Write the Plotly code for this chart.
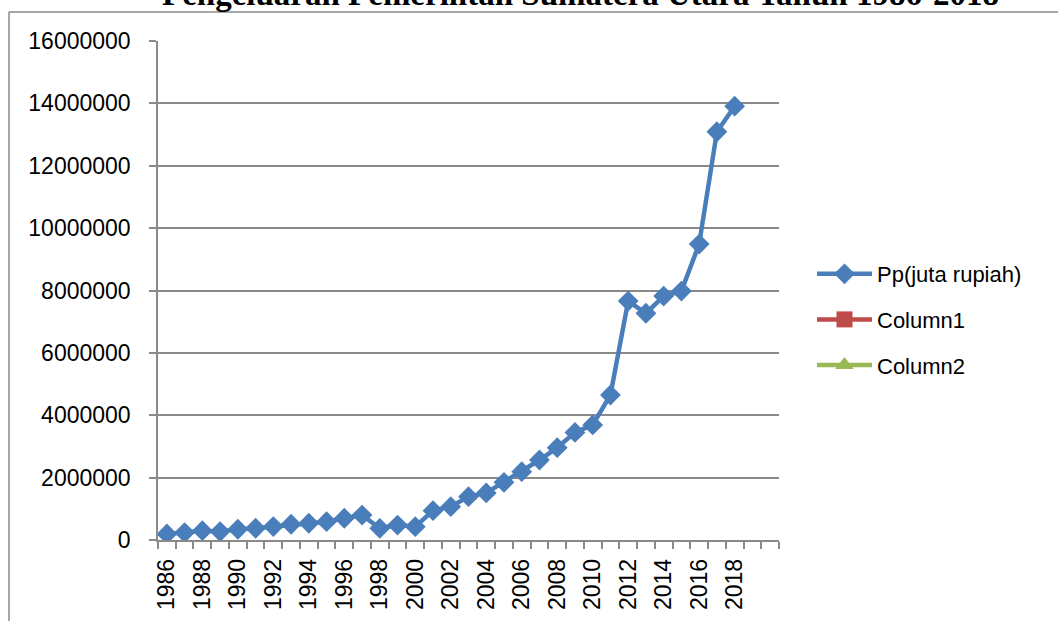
import plotly.graph_objects as go

# Government expenditure of North Sumatra (million rupiah), 1986-2018
years = [str(y) for y in range(1986, 2019)]
pp_values = [
    192000, 237000, 300000, 270000, 345000, 377000, 430000, 505000, 537000,
    587000, 697000, 800000, 375000, 480000, 427000, 940000, 1070000, 1390000,
    1510000, 1850000, 2190000, 2565000, 2960000, 3450000, 3690000, 4650000,
    7660000, 7270000, 7820000, 7980000, 9490000, 13090000, 13910000,
]

# Category axis runs two empty slots past the last year
categories = [str(y) for y in range(1986, 2021)]
tick_text = [c if (int(c) % 2 == 0 and int(c) <= 2018) else "" for c in categories]
y_ticks = list(range(0, 16000001, 2000000))

title_text = "Pengeluaran Pemerintah Sumatera Utara Tahun 1986-2018"
series_names = ["Pp(juta rupiah)", "Column1", "Column2"]

W, H = 1058, 621
L, R, T, B = 158, 779, 41, 540  # plot area edges in pixels
pw, ph = R - L, B - T


def px_x(x):
    return (x - L) / pw


def px_y(y):
    return (B - y) / ph


GRID = "#8a8a8a"
FONT = "Liberation Sans"

fig = go.Figure()
fig.add_trace(go.Scatter(
    x=years, y=pp_values, mode="lines+markers", name=series_names[0],
    line=dict(color="#4A7EBB", width=4.5),
    marker=dict(symbol="diamond", size=16, color="#4A7EBB"),
    legendgroup="a",
))
fig.add_trace(go.Scatter(
    x=[None], y=[None], mode="lines+markers", name=series_names[1],
    line=dict(color="#BE4B48", width=4.5),
    marker=dict(symbol="square", size=16, color="#BE4B48"),
    legendgroup="b",
))
fig.add_trace(go.Scatter(
    x=[None], y=[None], mode="lines+markers", name=series_names[2],
    line=dict(color="#98B954", width=4.5),
    marker=dict(symbol="triangle-up", size=16, color="#98B954"),
    legendgroup="c",
))

fig.update_layout(
    width=W, height=H,
    margin=dict(l=L, r=W - R, t=T, b=H - B, pad=0),
    paper_bgcolor="white", plot_bgcolor="white",
    font=dict(family=FONT, size=23, color="black"),
    showlegend=True,
    legend=dict(
        x=px_x(812), y=px_y(253), xanchor="left", yanchor="top",
        font=dict(family=FONT, size=22, color="black"),
        tracegroupgap=14, itemwidth=55, traceorder="grouped",
        bgcolor="rgba(0,0,0,0)",
    ),
    xaxis=dict(
        type="category", categoryorder="array", categoryarray=categories,
        range=[-0.5, len(categories) - 0.5],
        tickmode="array", tickvals=categories, ticktext=tick_text,
        tickson="boundaries", ticks="outside", ticklen=7, tickcolor=GRID,
        tickwidth=1.5, tickangle=-90, ticklabelstandoff=8,
        showline=True, linecolor=GRID, linewidth=1.5,
        showgrid=False, zeroline=False,
        tickfont=dict(family=FONT, size=23, color="black"),
    ),
    yaxis=dict(
        range=[0, 16000000], tickmode="array", tickvals=y_ticks,
        tickformat="d", ticks="outside", ticklen=7, tickcolor=GRID,
        tickwidth=1.5, ticklabelstandoff=14,
        showline=True, linecolor=GRID, linewidth=1.5,
        showgrid=True, gridcolor=GRID, gridwidth=1.5, zeroline=False,
        tickfont=dict(family=FONT, size=23, color="black"),
    ),
    annotations=[dict(
        text="<b>" + title_text + "</b>", xref="paper", yref="paper",
        x=px_x(580), y=px_y(14), xanchor="center", yanchor="bottom",
        showarrow=False,
        font=dict(family="Liberation Serif", size=33, color="black"),
    )],
    shapes=[
        dict(type="line", xref="paper", yref="paper",
             x0=px_x(9), y0=px_y(H + 5), x1=px_x(9), y1=px_y(12),
             line=dict(color=GRID, width=1.5)),
        dict(type="line", xref="paper", yref="paper",
             x0=px_x(9), y0=px_y(12), x1=px_x(W + 5), y1=px_y(12),
             line=dict(color=GRID, width=1.5)),
    ],
)

fig.write_html("out.html")
